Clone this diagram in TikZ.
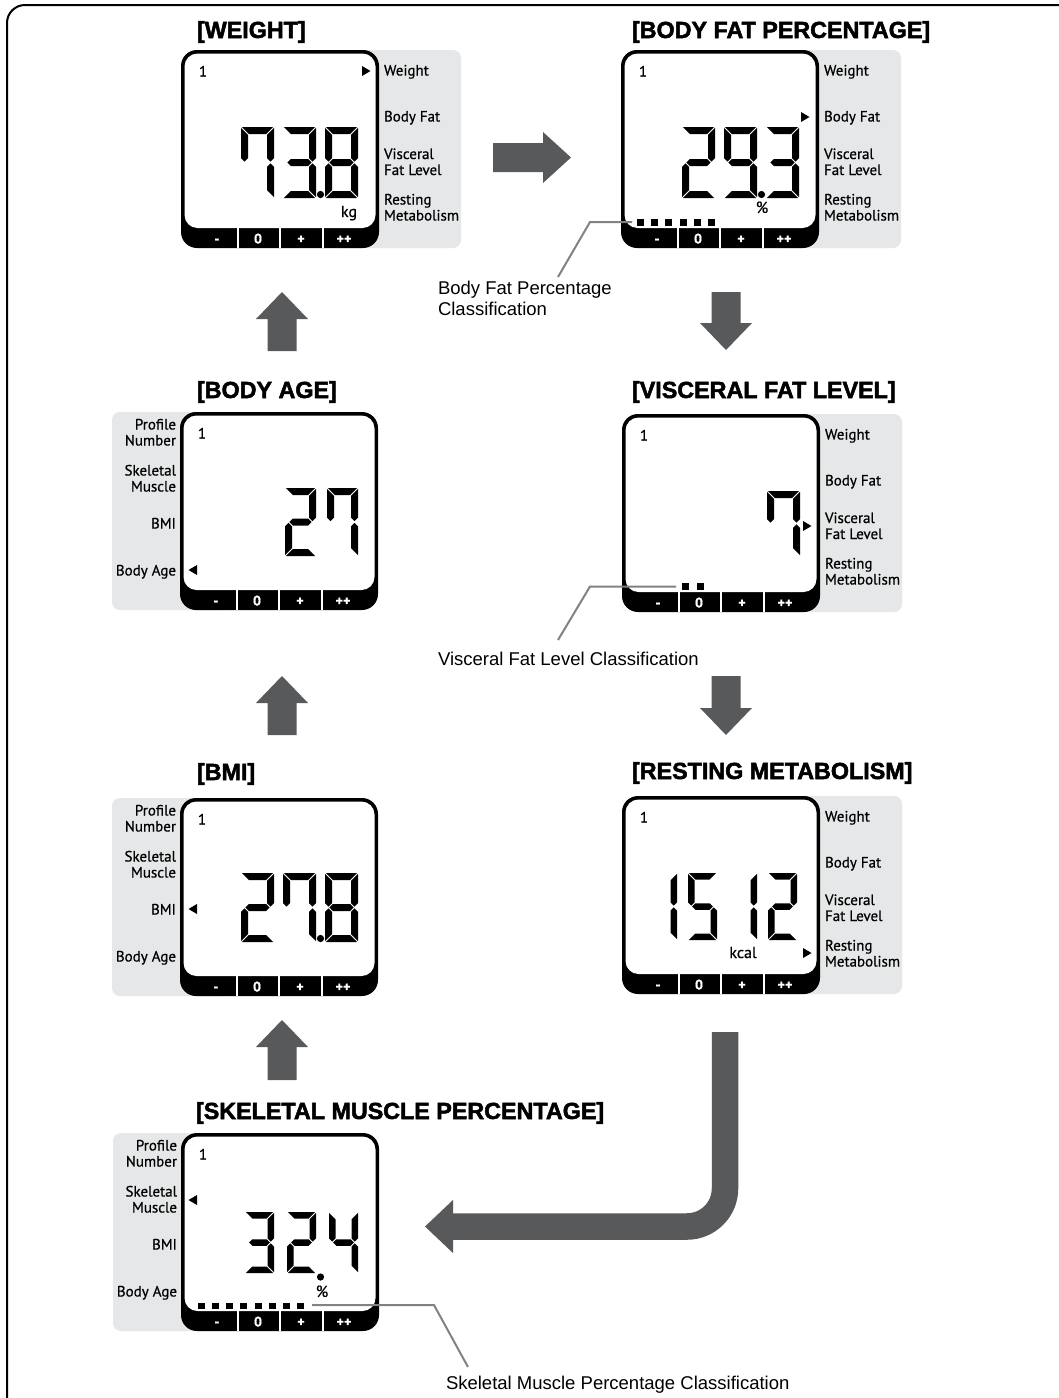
\documentclass[tikz,border=0pt]{standalone}
\usepackage{fontspec}
\setmainfont{Liberation Sans}
\newfontfamily\lcdfont{PT Sans}[FakeBold=0.6]
\newfontfamily\titlefont{Liberation Sans Bold}[FakeBold=2.2]
\definecolor{arrowgray}{HTML}{58595B}
\definecolor{panelgray}{HTML}{E6E7E8}
\definecolor{leadgray}{HTML}{808285}
\tikzset{
  txt/.style={inner sep=0pt, outer sep=0pt},
  title/.style={txt, anchor=base west, font=\titlefont\fontsize{23.3}{23}\selectfont},
  lcdlabel/.style={txt, font=\lcdfont\fontsize{15}{15}\selectfont},
  unitlabel/.style={txt, anchor=base, font=\lcdfont\fontsize{16}{16}\selectfont},
  bartext/.style={txt, anchor=base, text=white, font=\lcdfont\bfseries\fontsize{14}{14}\selectfont},
  classlabel/.style={txt, anchor=base west, font=\fontsize{18.5}{18.5}\selectfont},
  leader/.style={draw=leadgray, line width=2pt},
  blockarrow/.style={fill=arrowgray},
}
\def\dG{0.9}
\def\segA{\fill (\dG,0) -- ({\dW-\dG},0) -- ({\dW-\dT-\dG},\dT) -- ({\dT+\dG},\dT) -- cycle;}
\def\segD{\fill (\dG,\dH) -- ({\dW-\dG},\dH) -- ({\dW-\dT-\dG},{\dH-\dT}) -- ({\dT+\dG},{\dH-\dT}) -- cycle;}
\def\segF{\fill (0,\dG) -- (\dT,{\dT+\dG}) -- (\dT,{\dH/2-\dT/2-\dG}) -- ({\dT/2},{\dH/2-\dG}) -- (0,{\dH/2-\dT/2-\dG}) -- cycle;}
\def\segE{\fill (0,{\dH/2+\dT/2+\dG}) -- ({\dT/2},{\dH/2+\dG}) -- (\dT,{\dH/2+\dT/2+\dG}) -- (\dT,{\dH-\dT-\dG}) -- (0,{\dH-\dG}) -- cycle;}
\def\segB{\fill (\dW,\dG) -- ({\dW-\dT},{\dT+\dG}) -- ({\dW-\dT},{\dH/2-\dT/2-\dG}) -- ({\dW-\dT/2},{\dH/2-\dG}) -- (\dW,{\dH/2-\dT/2-\dG}) -- cycle;}
\def\segC{\fill (\dW,{\dH/2+\dT/2+\dG}) -- ({\dW-\dT/2},{\dH/2+\dG}) -- ({\dW-\dT},{\dH/2+\dT/2+\dG}) -- ({\dW-\dT},{\dH-\dT-\dG}) -- (\dW,{\dH-\dG}) -- cycle;}
\def\segG{\fill ({\dT/2+\dG},{\dH/2}) -- ({\dT+\dG},{\dH/2-\dT/2}) -- ({\dW-\dT-\dG},{\dH/2-\dT/2}) -- ({\dW-\dT/2-\dG},{\dH/2}) -- ({\dW-\dT-\dG},{\dH/2+\dT/2}) -- ({\dT+\dG},{\dH/2+\dT/2}) -- cycle;}
\newcommand\sevenseg[6]{%
  \begin{scope}[shift={(#1,#2)}]
    \def\dW{#3}\def\dH{#4}\def\dT{#5}%
    \foreach \s in {#6}{\csname seg\s\endcsname}
  \end{scope}}
\newcommand\lcdpanel[3]{%
  \begin{scope}[shift={(#1,#2)}]
    \fill[black, rounded corners=16pt] (0,0) rectangle (198,198);
    \fill[white, rounded corners=13pt] (3.5,3.5) rectangle (194.5,178);
    \foreach \sx in {57,99,142}{\draw[white, line width=1.2pt] (\sx,178) -- (\sx,198);}
    \node[bartext] at (36,193.5) {-};
    \node[bartext] at (77,193.5) {0};
    \node[bartext] at (120,193.5) {+};
    \node[bartext] at (163,193.5) {++};
    \node[lcdlabel, anchor=base] (#3) at (22,26.5) {1};
  \end{scope}}
\newcommand\grayR[2]{\fill[panelgray, rounded corners=8pt] ({#1+150},#2) rectangle ({#1+280},{#2+198});}
\newcommand\grayL[2]{\fill[panelgray, rounded corners=8pt] ({#1-68},#2) rectangle ({#1+50},{#2+198});}
\newcommand\labelsR[2]{%
  \begin{scope}[shift={(#1,#2)}]
    \node[lcdlabel, anchor=base west] at (203,25.5) {Weight};
    \node[lcdlabel, anchor=base west] at (203,71.5) {Body Fat};
    \node[lcdlabel, anchor=base west] at (203,109) {Visceral};
    \node[lcdlabel, anchor=base west] at (203,125) {Fat Level};
    \node[lcdlabel, anchor=base west] at (203,154.5) {Resting};
    \node[lcdlabel, anchor=base west] at (203,170.5) {Metabolism};
  \end{scope}}
\newcommand\labelsL[2]{%
  \begin{scope}[shift={(#1,#2)}]
    \node[lcdlabel, anchor=base east] at (-4,17.5) {Profile};
    \node[lcdlabel, anchor=base east] at (-4,33.5) {Number};
    \node[lcdlabel, anchor=base east] at (-4,63.5) {Skeletal};
    \node[lcdlabel, anchor=base east] at (-4,79.5) {Muscle};
    \node[lcdlabel, anchor=base east] at (-4,116.5) {BMI};
    \node[lcdlabel, anchor=base east] at (-4,163.5) {Body Age};
  \end{scope}}
\newcommand\triR[2]{\fill ({#1-4},{#2-5}) -- ({#1+4.5},#2) -- ({#1-4},{#2+5}) -- cycle;}
\newcommand\triL[2]{\fill ({#1+4},{#2-5}) -- ({#1-4.5},#2) -- ({#1+4},{#2+5}) -- cycle;}
\newcommand\uparr[3]{\fill[blockarrow] (#1,#2) -- ({#1+26},{#2+27}) -- ({#1+14.5},{#2+27}) -- ({#1+14.5},#3) -- ({#1-14.5},#3) -- ({#1-14.5},{#2+27}) -- ({#1-26},{#2+27}) -- cycle;}
\newcommand\downarr[3]{\fill[blockarrow] (#1,#3) -- ({#1+26},{#3-27}) -- ({#1+14.5},{#3-27}) -- ({#1+14.5},#2) -- ({#1-14.5},#2) -- ({#1-14.5},{#3-27}) -- ({#1-26},{#3-27}) -- cycle;}
\begin{document}
\begin{tikzpicture}[x=1pt,y=-1pt]
\useasboundingbox (0,0) rectangle (1059,1398);
\fill[white] (0,0) rectangle (1059,1398);
\begin{scope}
  \clip (0,0) rectangle (1059,1398);
  \draw[line width=2pt, rounded corners=18pt] (7,5) rectangle (1076,1414);
\end{scope}

% gray side panels
\grayR{181}{50}
\grayR{621}{50}
\grayL{180}{412}
\grayR{622}{414}
\grayL{180}{798}
\grayR{622}{796}
\grayL{181}{1133}

% LCD frames
\lcdpanel{181}{50}{pw}
\lcdpanel{621}{50}{pbf}
\lcdpanel{180}{412}{pba}
\lcdpanel{622}{414}{pvf}
\lcdpanel{180}{798}{pbmi}
\lcdpanel{622}{796}{prm}
\lcdpanel{181}{1133}{psm}

% side labels
\labelsR{181}{50}
\labelsR{621}{50}
\labelsL{180}{412}
\labelsR{622}{414}
\labelsL{180}{798}
\labelsR{622}{796}
\labelsL{181}{1133}

% indicator triangles
\triR{366}{71}
\triR{805}{117}
\triL{193}{570}
\triR{807}{526}
\triL{193}{909}
\triR{807}{953}
\triL{193}{1200}

% digits: WEIGHT 73.8
\sevenseg{241}{127}{33}{71}{7}{A,F,B,C}
\sevenseg{283}{127}{33}{71}{7}{A,B,G,C,D}
\sevenseg{325}{127}{33}{71}{7}{A,B,C,D,E,F,G}
\fill (320.5,194.5) circle (3.6pt);
\node[unitlabel] at (349,217) {kg};
% BODY FAT 29.3
\sevenseg{682}{127}{33}{71}{7}{A,B,G,E,D}
\sevenseg{724}{127}{33}{71}{7}{A,B,C,D,F,G}
\sevenseg{766}{127}{33}{71}{7}{A,B,G,C,D}
\fill (761.5,194.5) circle (3.6pt);
\node[unitlabel] at (762,213) {\%};
% BODY AGE 27
\sevenseg{285}{488}{31}{68}{7}{A,B,G,E,D}
\sevenseg{327}{488}{31}{68}{7}{A,F,B,C}
% VISCERAL 7
\sevenseg{767}{491}{33}{65}{7}{A,F,B,C}
% BMI 27.8
\sevenseg{241}{873}{33}{69}{7}{A,B,G,E,D}
\sevenseg{283}{873}{33}{69}{7}{A,F,B,C}
\sevenseg{325}{873}{33}{69}{7}{A,B,C,D,E,F,G}
\fill (320.5,938.5) circle (3.6pt);
% RESTING 1512
\sevenseg{648}{873}{29}{67}{6.5}{B,C}
\sevenseg{688}{873}{29}{67}{6.5}{A,F,G,C,D}
\sevenseg{728}{873}{29}{67}{6.5}{B,C}
\sevenseg{768}{873}{29}{67}{6.5}{A,B,G,E,D}
\node[unitlabel] at (743,958) {kcal};
% SKELETAL 32.4
\sevenseg{245}{1212}{29}{61}{6.5}{A,B,G,C,D}
\sevenseg{287}{1212}{29}{61}{6.5}{A,B,G,E,D}
\sevenseg{329}{1212}{29}{61}{6.5}{F,G,B,C}
\fill (320.5,1277) circle (3.6pt);
\node[unitlabel] at (322,1297) {\%};

% classification squares
\foreach \i in {0,...,5}{\fill ({637+14.2*\i},219) rectangle ({644+14.2*\i},225.5);}
\foreach \i in {0,1}{\fill ({682+15*\i},583) rectangle ({689+15*\i},589.5);}
\foreach \i in {0,...,7}{\fill ({198.3+14.05*\i},1302.5) rectangle ({205.3+14.05*\i},1309);}

% titles
\node[title] (tw) at (197,38) {[WEIGHT]};
\node[title] (tbf) at (632,38) {[BODY FAT PERCENTAGE]};
\node[title] (tba) at (197,398) {[BODY AGE]};
\node[title] (tvf) at (632,398) {[VISCERAL FAT LEVEL]};
\node[title] (tbmi) at (197,780) {[BMI]};
\node[title] (trm) at (632,779) {[RESTING METABOLISM]};
\node[title] (tsm) at (196,1119) {[SKELETAL MUSCLE PERCENTAGE]};

% block arrows
\fill[blockarrow] (493,143) -- (543,143) -- (543,132) -- (571,157.5) -- (543,183) -- (543,172) -- (493,172) -- cycle;
\uparr{282}{292}{351}
\downarr{726}{292}{350}
\downarr{726}{676}{735}
\uparr{282}{676}{735}
\uparr{282}{1020}{1080}
\draw[arrowgray, line width=26.5pt, rounded corners=38pt] (725,1032) -- (725,1226.5) -- (452,1226.5);
\fill[blockarrow] (453,1200) -- (425,1226.5) -- (453,1253) -- cycle;

% leader lines and classification labels
\coordinate (cbf) at (632,222);
\coordinate (cvf) at (676,586.5);
\coordinate (csm) at (312,1305);
\node[classlabel] (lbf1) at (438,294) {Body Fat Percentage};
\node[classlabel] (lbf2) at (438,315) {Classification};
\node[classlabel] (lvf) at (438,665) {Visceral Fat Level Classification};
\node[classlabel] (lsm) at (446,1389) {Skeletal Muscle Percentage Classification};
\draw[leader] (cbf) -- (590,222) -- (558,277);
\draw[leader] (cvf) -- (590,586.5) -- (558,640);
\draw[leader] (csm) -- (434,1305) -- (468,1367);
\end{tikzpicture}
\end{document}
